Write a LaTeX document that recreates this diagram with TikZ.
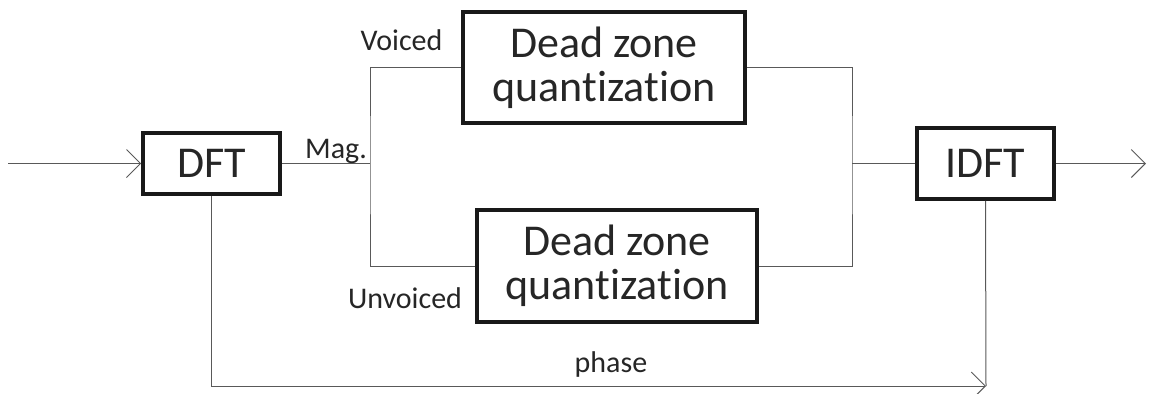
\documentclass[tikz,border=0pt]{standalone}
\usepackage{fontspec}
\setmainfont{Carlito}[Ligatures=NoCommon]
\usepackage{tikz}
\usetikzlibrary{arrows.meta}
\tikzstyle{block} = [draw=black!90, line width=1.8pt, inner sep=0pt, font=\fontsize{22}{22}\selectfont, align=center, text=black!85]
\tikzstyle{wire} = [draw=black!65, line width=0.5pt]
\tikzstyle{arrow} = [wire, -{Straight Barb[length=7pt, width=14pt]}]
\tikzstyle{tag} = [font=\fontsize{15}{18}\selectfont, text=black!85, inner sep=0pt]

\begin{document}
\begin{tikzpicture}[x=0.5pt, y=-0.5pt]
	\useasboundingbox (0,0) rectangle (1153,393);
	% blocks
	\node[block, minimum width=68.5pt, minimum height=30.5pt] (dft) at (211.5,163.5) {DFT};
	\node[block, minimum width=141pt, minimum height=55.5pt] (vq) at (604,67.5) {Dead zone\\quantization};
	\node[block, minimum width=140pt, minimum height=56pt] (uq) at (617,266) {Dead zone\\quantization};
	\node[block, minimum width=68.5pt, minimum height=35.5pt] (idft) at (985.5,163.5) {IDFT};
	% branch points
	\coordinate (in) at (8,163.5);
	\coordinate (out) at (1146,163.5);
	\coordinate (split) at (370,163.5);
	\coordinate (merge) at (852,163.5);
	\coordinate (corner) at (986,386);
	% connections
	\draw[arrow] (in) -- (dft.west);
	\draw[wire] (dft.east) -- (split);
	\draw[wire] (vq.west) -| (split) |- (uq.west);
	\draw[wire] (vq.east) -| (merge) |- (uq.east);
	\draw[wire] (merge) -- (idft.west);
	\draw[arrow] (idft.east) -- (out);
	\draw[arrow] (dft.south) |- (corner);
	\draw[wire] (idft.south) -- (corner);
	% labels
	\node[tag] (mag) at (336,151) {Mag.};
	\node[tag] (voiced) at (401.5,40) {Voiced};
	\node[tag] (unvoiced) at (405,298) {Unvoiced};
	\node[tag] (phase) at (611,364) {phase};
\end{tikzpicture}
\end{document}
